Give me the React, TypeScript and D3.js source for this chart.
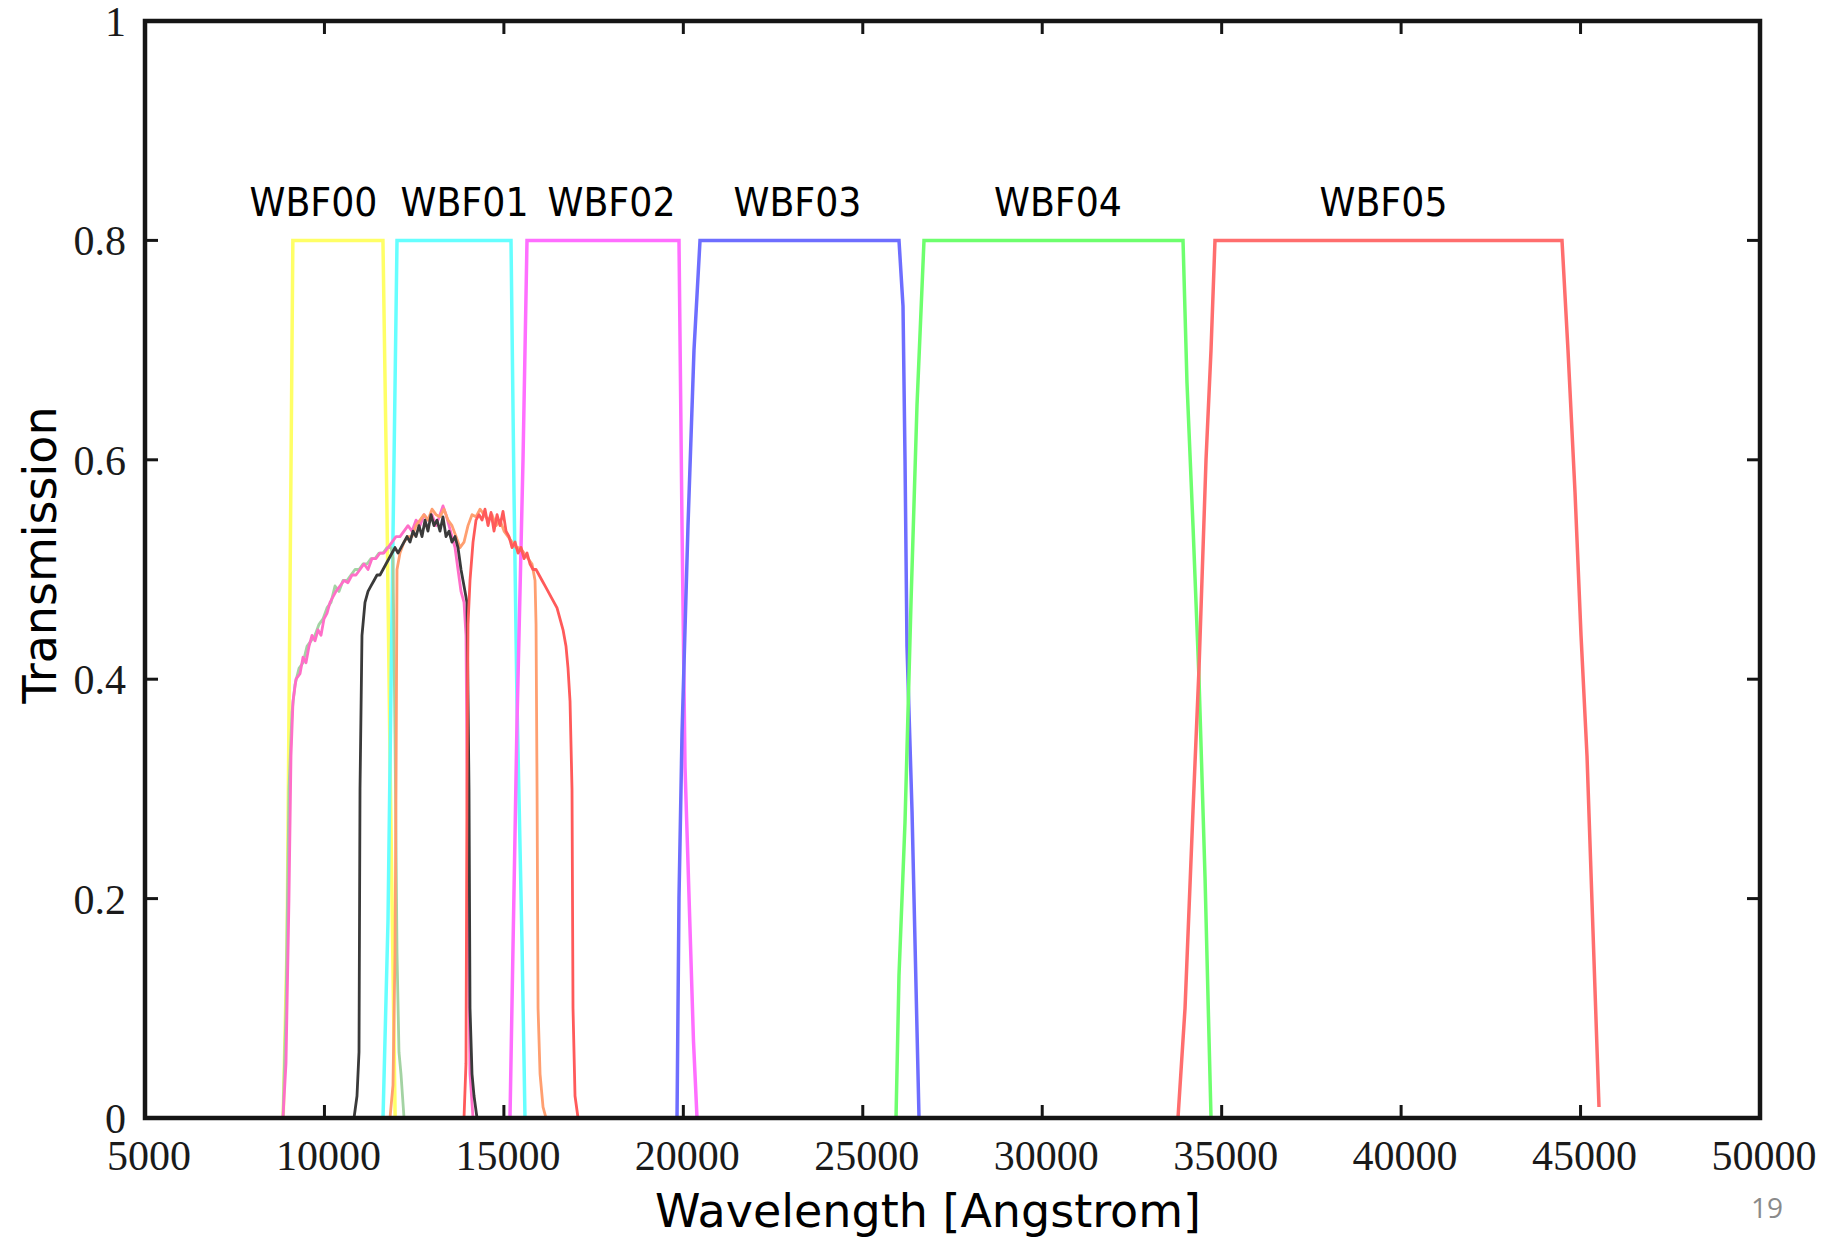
import React from 'react';
import * as d3 from 'd3';

const W = 1843;
const H = 1238;

// Axis ticks
const xTicks = [5000, 10000, 15000, 20000, 25000, 30000, 35000, 40000, 45000, 50000];
const xTickLabels = ['5000', '10000', '15000', '20000', '25000', '30000', '35000', '40000', '45000', '50000'];
const yTicks = [0, 0.2, 0.4, 0.6, 0.8, 1];
const yTickLabels = ['0', '0.2', '0.4', '0.6', '0.8', '1'];

// Wide band filters [wavelength (A), transmission]
const wbf00: [number, number][] = [[8850, 0], [8960, 0.16], [9040, 0.48], [9120, 0.8], [11630, 0.8], [11740, 0.56], [11830, 0.32], [11970, 0]];
const wbf01: [number, number][] = [[11632, 0], [11771, 0.18], [11910, 0.53], [12022, 0.8], [15198, 0.8], [15282, 0.57], [15365, 0.38], [15505, 0.16], [15588, 0]];
const wbf02: [number, number][] = [[15170, 0], [15240, 0.13], [15365, 0.36], [15533, 0.6], [15644, 0.8], [19879, 0.8], [19963, 0.54], [20047, 0.32], [20283, 0.07], [20381, 0]];
const wbf03: [number, number][] = [[19824, 0], [19879, 0.2], [19963, 0.35], [20130, 0.54], [20297, 0.7], [20465, 0.8], [26009, 0.8], [26121, 0.74], [26177, 0.6], [26232, 0.43], [26372, 0.28], [26567, 0]];
const wbf04: [number, number][] = [[25926, 0], [26009, 0.13], [26177, 0.27], [26344, 0.47], [26511, 0.65], [26706, 0.8], [33923, 0.8], [34034, 0.67], [34201, 0.54], [34369, 0.4], [34536, 0.22], [34703, 0]];
const wbf05: [number, number][] = [[33783, 0], [33979, 0.1], [34201, 0.28], [34369, 0.41], [34564, 0.6], [34703, 0.7], [34814, 0.8], [44483, 0.8], [44650, 0.7], [44846, 0.57], [45013, 0.44], [45180, 0.33], [45347, 0.17], [45514, 0.01]];

const bandNames = ['WBF00', 'WBF01', 'WBF02', 'WBF03', 'WBF04', 'WBF05'];
const bandLabelX = [9695, 13903, 17999, 23181, 30440, 39510];
const bandColors = ['#ffff66', '#66ffff', '#ff6eff', '#6e6eff', '#6eff6e', '#ff6e6e'];

// Broad band response curves
const curvePink: [number, number][] = [[8845, 0], [8929, 0.05], [9012, 0.2], [9068, 0.33], [9124, 0.38], [9207, 0.4], [9319, 0.405], [9403, 0.42], [9486, 0.415], [9570, 0.43], [9653, 0.44], [9737, 0.435], [9821, 0.445], [9904, 0.44], [9988, 0.455], [10071, 0.46], [10155, 0.47], [10238, 0.475], [10322, 0.48], [10433, 0.485], [10545, 0.49], [10656, 0.488], [10768, 0.495], [10879, 0.495], [10991, 0.5], [11102, 0.505], [11214, 0.5], [11325, 0.51], [11437, 0.51], [11548, 0.515], [11659, 0.515], [11771, 0.52], [11883, 0.525], [11994, 0.53], [12105, 0.53], [12217, 0.535], [12328, 0.54], [12440, 0.535], [12551, 0.545], [12663, 0.54], [12774, 0.55], [12885, 0.545], [12997, 0.55], [13108, 0.54], [13220, 0.55], [13303, 0.558], [13387, 0.55], [13471, 0.54], [13554, 0.53], [13638, 0.52], [13721, 0.5], [13805, 0.48], [13889, 0.47], [13944, 0.44], [14000, 0.2], [14056, 0.04], [14140, 0]];
const curveGreen: [number, number][] = [[8845, 0], [8929, 0.1], [9012, 0.3], [9096, 0.37], [9179, 0.395], [9291, 0.41], [9403, 0.415], [9514, 0.43], [9626, 0.435], [9737, 0.44], [9849, 0.45], [9960, 0.455], [10071, 0.465], [10183, 0.47], [10294, 0.485], [10405, 0.48], [10517, 0.49], [10629, 0.49], [10740, 0.495], [10852, 0.5], [10963, 0.5], [11074, 0.505], [11186, 0.505], [11297, 0.51], [11409, 0.51], [11520, 0.515], [11632, 0.515], [11743, 0.52], [11855, 0.52], [11910, 0.51], [11966, 0.35], [12022, 0.15], [12077, 0.06], [12133, 0.04], [12217, 0]];
const curveBlack: [number, number][] = [[10824, 0], [10907, 0.02], [10963, 0.06], [10991, 0.3], [11046, 0.44], [11130, 0.47], [11214, 0.48], [11297, 0.485], [11381, 0.49], [11465, 0.495], [11548, 0.495], [11632, 0.5], [11715, 0.505], [11799, 0.51], [11883, 0.515], [11966, 0.52], [12050, 0.515], [12133, 0.52], [12217, 0.525], [12300, 0.53], [12384, 0.525], [12468, 0.535], [12551, 0.53], [12635, 0.54], [12719, 0.53], [12802, 0.545], [12885, 0.535], [12969, 0.55], [13053, 0.54], [13136, 0.545], [13220, 0.535], [13303, 0.548], [13387, 0.53], [13471, 0.535], [13554, 0.525], [13638, 0.53], [13721, 0.52], [13805, 0.5], [13889, 0.485], [13972, 0.47], [14028, 0.3], [14056, 0.1], [14112, 0.04], [14168, 0.02], [14251, 0]];
const curveOrange: [number, number][] = [[11827, 0], [11910, 0.03], [11966, 0.15], [11994, 0.3], [12022, 0.5], [12105, 0.515], [12217, 0.525], [12328, 0.53], [12440, 0.53], [12551, 0.54], [12663, 0.545], [12774, 0.55], [12885, 0.545], [12997, 0.555], [13108, 0.55], [13220, 0.548], [13331, 0.555], [13443, 0.545], [13554, 0.54], [13666, 0.53], [13777, 0.52], [13889, 0.525], [14000, 0.54], [14112, 0.55], [14223, 0.548], [14335, 0.555], [14446, 0.55], [14558, 0.545], [14669, 0.55], [14781, 0.54], [14893, 0.545], [15004, 0.535], [15116, 0.53], [15227, 0.525], [15338, 0.52], [15450, 0.52], [15562, 0.515], [15673, 0.51], [15784, 0.505], [15868, 0.49], [15896, 0.45], [15924, 0.3], [15952, 0.1], [16008, 0.04], [16091, 0.01], [16174, 0]];
const curveRed: [number, number][] = [[13889, 0], [13944, 0.05], [13972, 0.3], [14000, 0.45], [14056, 0.49], [14140, 0.525], [14223, 0.545], [14307, 0.55], [14391, 0.545], [14474, 0.555], [14558, 0.54], [14642, 0.552], [14725, 0.535], [14809, 0.55], [14893, 0.54], [14976, 0.553], [15060, 0.535], [15144, 0.53], [15227, 0.52], [15311, 0.525], [15395, 0.515], [15478, 0.52], [15562, 0.51], [15645, 0.515], [15729, 0.505], [15812, 0.5], [15896, 0.5], [15980, 0.495], [16064, 0.49], [16147, 0.485], [16231, 0.48], [16313, 0.475], [16397, 0.47], [16480, 0.465], [16564, 0.455], [16648, 0.445], [16731, 0.43], [16787, 0.41], [16843, 0.38], [16898, 0.3], [16926, 0.1], [16982, 0.02], [17066, 0]];

const bands = [wbf00, wbf01, wbf02, wbf03, wbf04, wbf05];
const broad = [
  { data: curveGreen, color: '#a3d3a3' },
  { data: curvePink, color: '#ff6ec8' },
  { data: curveOrange, color: '#ff9f70' },
  { data: curveBlack, color: '#3a3a3a' },
  { data: curveRed, color: '#ff5a5a' },
];

export default function App() {
  const left = 145, right = 1760, top = 21, bottom = 1118;
  const x = d3.scaleLinear().domain([5000, 50000]).range([left, right]);
  const y = d3.scaleLinear().domain([0, 1]).range([bottom, top]);
  const line = d3.line<[number, number]>().x(d => x(d[0])).y(d => y(d[1]));
  const tickLen = 13;
  const axisColor = '#151515';

  return (
    <svg width={W} height={H} style={{ position: 'absolute', left: 0, top: 0, background: '#fff' }}>
      <rect x={0} y={0} width={W} height={H} fill="#fff" />
      {bands.map((b, i) => (
        <path key={'b' + i} d={line(b) || ''} fill="none" stroke={bandColors[i]} strokeWidth={3.5} strokeLinejoin="miter" />
      ))}
      {broad.map((c, i) => (
        <path key={'c' + i} d={line(c.data) || ''} fill="none" stroke={c.color} strokeWidth={2.8} strokeLinejoin="round" />
      ))}
      {xTicks.map((t, i) => (
        <g key={'xt' + i}>
          <line x1={x(t)} x2={x(t)} y1={bottom} y2={bottom - tickLen} stroke={axisColor} strokeWidth={3} />
          <line x1={x(t)} x2={x(t)} y1={top} y2={top + tickLen} stroke={axisColor} strokeWidth={3} />
          <text x={x(t) + 4} y={1170} textAnchor="middle" fontFamily="'Liberation Serif', 'DejaVu Serif', serif" fontSize={42} fill="#1a1a1a">{xTickLabels[i]}</text>
        </g>
      ))}
      {yTicks.map((t, i) => (
        <g key={'yt' + i}>
          <line x1={left} x2={left + tickLen} y1={y(t)} y2={y(t)} stroke={axisColor} strokeWidth={3} />
          <line x1={right} x2={right - tickLen} y1={y(t)} y2={y(t)} stroke={axisColor} strokeWidth={3} />
          <text x={126} y={y(t) + 1} textAnchor="end" dominantBaseline="central" fontFamily="'Liberation Serif', 'DejaVu Serif', serif" fontSize={42} fill="#1a1a1a">{yTickLabels[i]}</text>
        </g>
      ))}
      <rect x={left} y={top} width={right - left} height={bottom - top} fill="none" stroke={axisColor} strokeWidth={4.5} />
      {bandNames.map((n, i) => (
        <text key={'l' + i} x={x(bandLabelX[i])} y={y(0.8) - 24} textAnchor="middle" fontFamily="'DejaVu Sans', sans-serif" fontSize={39} textLength={128} lengthAdjust="spacingAndGlyphs" fill="#000">{n}</text>
      ))}
      <text x={928} y={1227} textAnchor="middle" fontFamily="'DejaVu Sans', sans-serif" fontSize={46} fill="#000">Wavelength [Angstrom]</text>
      <text transform={`translate(56, 555) rotate(-90)`} textAnchor="middle" fontFamily="'DejaVu Sans', sans-serif" fontSize={46} fill="#000">Transmission</text>
      <text x={1767} y={1218} textAnchor="middle" fontFamily="'Open Sans', sans-serif" fontSize={28} fill="#8a8a8a">19</text>
    </svg>
  );
}
